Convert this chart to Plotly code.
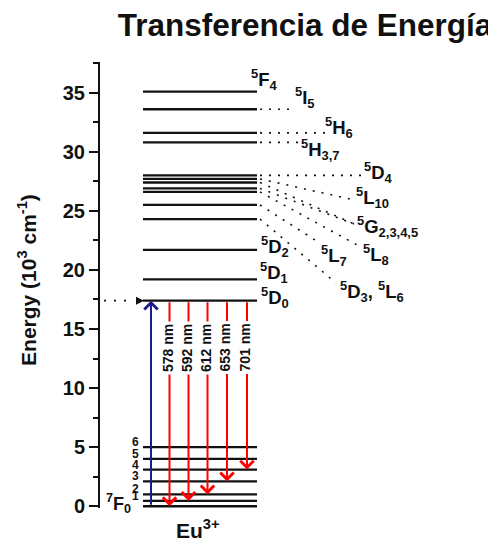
import plotly.graph_objects as go

# ---------------- data ----------------
upper_levels = [17.4, 19.2, 21.7, 24.3, 25.5, 26.6, 26.9, 27.4, 27.7, 28.0, 30.8, 31.6, 33.6, 35.1]
ground_levels = [0.0, 0.45, 1.0, 2.1, 3.1, 4.0, 5.0]
ground_j_labels = ["1", "2", "3", "4", "5", "6"]
excitation_level = 17.4
emission_labels = ["578 nm", "592 nm", "612 nm", "653 nm", "701 nm"]
emission_target_j = [0, 1, 2, 3, 4]
y_ticks = [0, 5, 10, 15, 20, 25, 30, 35]

# ---------------- geometry helpers ----------------
# The page body has an 8px margin, so the figure is placed at (8, 8) in the window.
OFF = 8
W, H = 496 - OFF, 541 - OFF
L_M, R_M = 100 - OFF, 0
T_M = 62.3 - OFF
B_M = 33.2
Y_LO, Y_HI = -0.15, 37.6
X_LO, X_HI = 100, 496          # x axis in window-pixel-like units
PLOT_H = H - T_M - B_M

def e_at(py):                  # window pixel y -> energy value
    return Y_LO + (H - B_M - (py - OFF)) / PLOT_H * (Y_HI - Y_LO)

def paper_x(px):               # window pixel x -> paper fraction
    return (px - OFF - L_M) / (W - L_M - R_M)

def paper_y(py):               # window pixel y -> paper fraction
    return (H - B_M - (py - OFF)) / PLOT_H

LX0, LX1 = 143, 257            # horizontal extent of level lines
FONT = "Liberation Sans, Arial, sans-serif"
BLACK = "#111111"

fig = go.Figure()

# level lines
xs, ys = [], []
for e in upper_levels + ground_levels:
    xs += [LX0, LX1, None]
    ys += [e, e, None]
fig.add_trace(go.Scatter(x=xs, y=ys, mode="lines", line=dict(color=BLACK, width=2.3),
                         hoverinfo="skip", showlegend=False))

# dotted connectors: (level, end x, end y-pixel or None for horizontal)
connectors = [
    (33.6, 296, None),
    (31.6, 326, None),
    (30.8, 299, None),
    (28.0, 362, None),
    (27.7, 354, 200),
    (27.4, 354, 224),
    (26.9, 354, 224),
    (26.6, 357, 245),
    (25.5, 318, 242),
    (24.3, 336, 283),
]
dx, dy = [], []
for lev, ex, ey in connectors:
    dx += [LX1 + 3, ex, None]
    dy += [lev, lev if ey is None else e_at(ey), None]
fig.add_trace(go.Scatter(x=dx, y=dy, mode="lines",
                         line=dict(color=BLACK, width=1.6, dash="2px,7px"),
                         hoverinfo="skip", showlegend=False))

# dotted excitation arrow shaft
fig.add_trace(go.Scatter(x=[104, 134], y=[excitation_level, excitation_level], mode="lines",
                         line=dict(color=BLACK, width=1.6, dash="2px,8px"),
                         hoverinfo="skip", showlegend=False))

ann = []
# arrowhead of dotted arrow
ann.append(dict(x=144, y=excitation_level, ax=136, ay=excitation_level, xref="x", yref="y",
                axref="x", ayref="y", text="", showarrow=True, arrowhead=2, arrowsize=1.6,
                arrowwidth=1, arrowcolor=BLACK, standoff=0))
# blue absorption arrow
ann.append(dict(x=151, y=excitation_level, ax=151, ay=ground_levels[0], xref="x", yref="y",
                axref="x", ayref="y", text="", showarrow=True, arrowhead=4, arrowsize=1.3,
                arrowwidth=2, arrowcolor="#1c1c8c", standoff=0))

red_x = [169.5, 188.5, 207.5, 227, 247]
for xi, lab, j in zip(red_x, emission_labels, emission_target_j):
    ann.append(dict(x=xi, y=ground_levels[j], ax=xi, ay=excitation_level, xref="x", yref="y",
                    axref="x", ayref="y", text="", showarrow=True, arrowhead=4, arrowsize=1.3,
                    arrowwidth=2, arrowcolor="#ff0000", standoff=0))
for xi, lab in zip(red_x, emission_labels):
    ann.append(dict(x=xi - 1.5, y=e_at(348), xref="x", yref="y", text=lab, textangle=-90,
                    showarrow=False, bgcolor="white", borderpad=2,
                    font=dict(family=FONT, size=14, color=BLACK, weight="bold")))

# term symbol labels: (text, left px, center px)
term_labels = [
    ("<sup>5</sup>F<sub>4</sub>", 249, 80),
    ("<sup>5</sup>I<sub>5</sub>", 293, 98),
    ("<sup>5</sup>H<sub>6</sub>", 323, 128),
    ("<sup>5</sup>H<sub>3,7</sub>", 299, 150),
    ("<sup>5</sup>D<sub>4</sub>", 362, 173),
    ("<sup>5</sup>L<sub>10</sub>", 354, 198),
    ("<sup>5</sup>G<sub>2,3,4,5</sub>", 355, 227),
    ("<sup>5</sup>L<sub>8</sub>", 361, 255),
    ("<sup>5</sup>L<sub>7</sub>", 319, 256),
    ("<sup>5</sup>D<sub>3</sub>, <sup>5</sup>L<sub>6</sub>", 338, 292),
    ("<sup>5</sup>D<sub>2</sub>", 259, 247),
    ("<sup>5</sup>D<sub>1</sub>", 258, 273),
    ("<sup>5</sup>D<sub>0</sub>", 259, 298),
]
for txt, px, py in term_labels:
    ann.append(dict(x=px, y=e_at(py), xref="x", yref="y", text=txt, showarrow=False,
                    xanchor="left", yanchor="middle",
                    font=dict(family=FONT, size=18.5, color=BLACK, weight="bold")))

# 7F J labels
for lev, lab in zip(ground_levels[1:], ground_j_labels):
    ann.append(dict(x=141, y=lev, xref="x", yref="y", text=lab, showarrow=False,
                    xanchor="right", yanchor="middle", yshift=5,
                    font=dict(family=FONT, size=12, color=BLACK, weight="bold")))
ann.append(dict(x=133, y=e_at(503), xref="x", yref="y", text="<sup>7</sup>F<sub>0</sub>",
                showarrow=False, xanchor="right", yanchor="middle",
                font=dict(family=FONT, size=18, color=BLACK, weight="bold")))

# Eu3+ label
ann.append(dict(x=paper_x(198), y=paper_y(529), xref="paper", yref="paper",
                text="Eu<sup>3+</sup>", showarrow=False, xanchor="center", yanchor="middle",
                font=dict(family=FONT, size=21, color=BLACK, weight="bold")))

# y-axis title
ann.append(dict(x=paper_x(27), y=paper_y(280), xref="paper", yref="paper",
                text="Energy (10<sup>3</sup> cm<sup>-1</sup>)", textangle=-90, showarrow=False,
                xanchor="center", yanchor="middle",
                font=dict(family=FONT, size=21, color=BLACK, weight="bold")))

fig.update_layout(
    width=W, height=H,
    margin=dict(l=L_M, r=R_M, t=T_M, b=B_M),
    paper_bgcolor="white", plot_bgcolor="white",
    title=dict(text="Transferencia de Energía", x=(305 - OFF) / W, xanchor="center",
               y=1 - (26 - OFF - 1) / H, yanchor="middle",
               font=dict(family=FONT, size=31.5, color=BLACK, weight="bold")),
    xaxis=dict(range=[X_LO, X_HI], visible=False, fixedrange=True),
    yaxis=dict(range=[Y_LO, Y_HI], tickvals=y_ticks, ticktext=[str(t) for t in y_ticks],
               ticks="outside", ticklen=9, tickwidth=2, tickcolor=BLACK,
               showline=True, linewidth=2, linecolor=BLACK, showgrid=False, zeroline=False,
               minor=dict(tickvals=[2.5, 7.5, 12.5, 17.5, 22.5, 27.5, 32.5, 37.5],
                          ticks="outside", ticklen=5, tickwidth=2, tickcolor=BLACK),
               tickfont=dict(family=FONT, size=20, color=BLACK, weight="bold"),
               fixedrange=True),
    annotations=ann,
    showlegend=False,
)

fig.write_html("out.html")
